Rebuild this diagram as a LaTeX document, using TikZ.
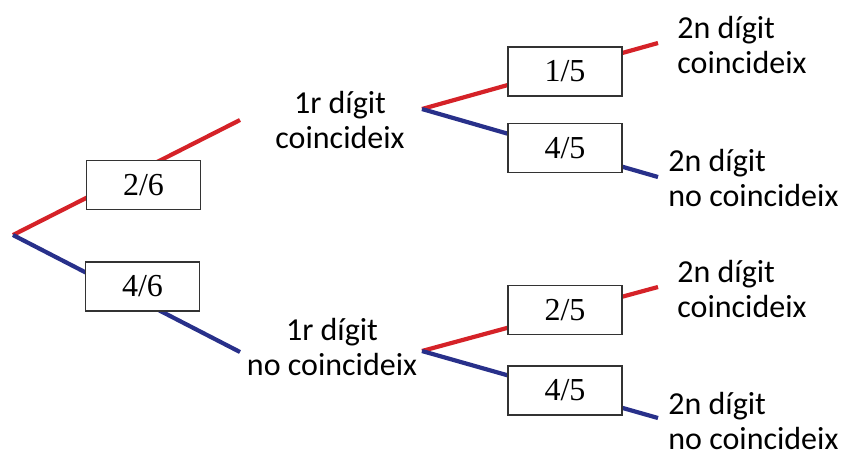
\documentclass[tikz,border=0pt]{standalone}
\usepackage{fontspec}
\setmainfont{Carlito}
\newfontfamily\boxfont{Liberation Serif}
\definecolor{tred}{RGB}{213,34,40}
\definecolor{tblue}{RGB}{40,48,138}
\begin{document}
\begin{tikzpicture}[x=0.5pt,y=-0.5pt,
  redl/.style={draw=tred,line width=2.1pt},
  bluel/.style={draw=tblue,line width=2.1pt},
  prob/.style={draw=black!80,line width=0.6pt,fill=white,minimum width=57pt,minimum height=24.5pt,inner sep=0pt,font=\boxfont\fontsize{16}{18}\selectfont},
  lab/.style={align=center,font=\fontsize{16}{17.5}\selectfont,inner sep=0pt},
  rlab/.style={align=left,anchor=west,font=\fontsize{16}{17.5}\selectfont,inner sep=0pt}]
\useasboundingbox (0,0) rectangle (841,452);
% coordinates
\coordinate (r) at (13,235);
\coordinate (a1) at (240,120);
\coordinate (b1) at (240,352);
\coordinate (u) at (422,109);
\coordinate (l) at (422,351);
\coordinate (ua) at (658,43);
\coordinate (ub) at (658,177);
\coordinate (la) at (658,287);
\coordinate (lb) at (658,418);
% branches
\draw[redl] (r) -- (a1);
\draw[bluel] (r) -- (b1);
\draw[redl] (u) -- (ua);
\draw[bluel] (u) -- (ub);
\draw[redl] (l) -- (la);
\draw[bluel] (l) -- (lb);
% boxes
\node[prob] (p26) at (143.5,185) {2/6};
\node[prob] (p46) at (142.5,286.5) {4/6};
\node[prob] (p15) at (565,71.5) {1/5};
\node[prob] (p45a) at (565,148) {4/5};
\node[prob] (p25) at (565,310) {2/5};
\node[prob] (p45b) at (565,390.5) {4/5};
% labels
\node[lab] (t1) at (340,120) {1r dígit\\coincideix};
\node[lab] (t2) at (332,347) {1r dígit\\no coincideix};
\node[rlab] (t3) at (677,45) {2n dígit\\coincideix};
\node[rlab] (t4) at (668,178) {2n dígit\\no coincideix};
\node[rlab] (t5) at (677,289) {2n dígit\\coincideix};
\node[rlab] (t6) at (668,421) {2n dígit\\no coincideix};
\end{tikzpicture}
\end{document}
